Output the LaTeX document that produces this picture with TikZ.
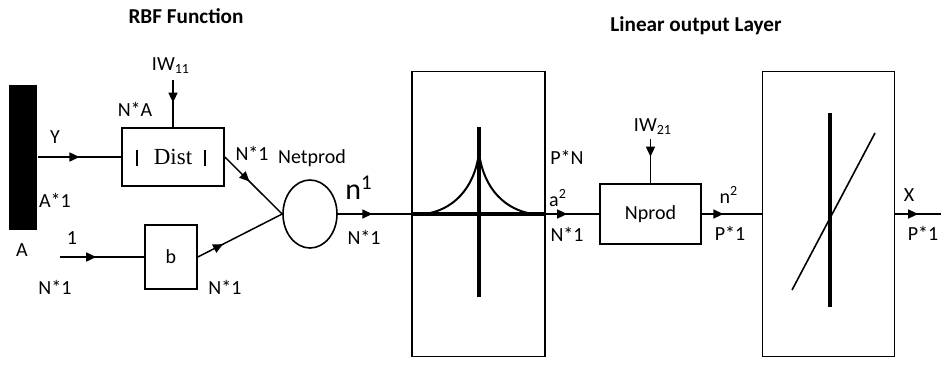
\documentclass[tikz,border=0pt]{standalone}
\usepackage{fontspec}
\setmainfont{Carlito}
\newfontfamily\distfont{Liberation Serif}
\usetikzlibrary{arrows.meta,shapes.geometric,decorations.markings}

\begin{document}
\begin{tikzpicture}[x=0.5pt,y=-0.5pt,>={Triangle[length=5pt,width=4.5pt]},line width=0.75pt,
  blk/.style={draw,line width=0.8pt,inner sep=0pt},
  lbl/.style={inner sep=0pt,font=\fontsize{10}{12}\selectfont},
  title/.style={inner sep=0pt,font=\bfseries\fontsize{10.6}{12}\selectfont},
  flow/.style={postaction={decorate},decoration={markings,mark=at position #1 with {\arrow{>}}}},
  flow/.default=0.5,
  axis/.style={line width=2pt}]
\useasboundingbox (0,0) rectangle (941,365);
\node[title] (rbf) at (186,16) {RBF Function};
\node[title] (lin) at (696,26) {Linear output Layer};
\node[fill=black,minimum width=14pt,minimum height=72.5pt,inner sep=0pt] (bar) at (23,157) {};
\node[blk,minimum width=51pt,minimum height=29pt] (dist) at (173,157) {\distfont\fontsize{11.5}{13}\selectfont Dist};
\node[blk,minimum width=26pt,minimum height=32pt] (b) at (171,257) {b};
\node[blk,ellipse,minimum width=27pt,minimum height=34pt] (net) at (310,214) {};
\node[blk,minimum width=66.5pt,minimum height=142.5pt] (rbox) at (478.5,214) {};
\node[blk,minimum width=50.5pt,minimum height=30pt] (nprod) at (650.5,214) {Nprod};
\node[blk,minimum width=66pt,minimum height=142.5pt] (lbox) at (828.5,214) {};
\coordinate (iw1) at (173,80);
\coordinate (one) at (60,257);
\coordinate (iw2) at (650.5,139);
\coordinate (out) at (941,214);
% marks inside Dist
\draw[line width=1.2pt] (137,150) -- (137,166);
\draw[line width=1.2pt] (205,150) -- (205,166);
% radial basis curve
\draw[axis] (rbox.west) -- (rbox.east);
\draw[axis] (479,127) -- (479,297);
\draw[line width=1pt] (425,214) .. controls (452,210) and (474,190) .. (479,153);
\draw[line width=1pt] (479,153) .. controls (484,190) and (506,210) .. (533,214);
% linear transfer
\draw[axis] (830,113) -- (830,307);
\draw[line width=0.8pt] (792,290) -- (875,133);
% connectors
\draw[flow] (bar) -- (dist);
\draw[flow=0.48] (iw1) -- (dist);
\draw[flow=0.43] (dist.east) -- (net.west);
\draw[flow=0.43] (one) -- (b);
\draw[flow=0.3] (b.east) -- (net.west);
\draw[flow=0.47] (net) -- (rbox);
\draw[flow=0.4] (rbox) -- (nprod);
\draw[flow=0.4] (iw2) -- (nprod);
\draw[flow=0.36] (nprod) -- (lbox);
\draw[flow] (lbox) -- (out);
% labels
\node[lbl] (iw11) at (171,66) {IW\textsubscript{11}};
\node[lbl] (na) at (135,109) {N*A};
\node[lbl] (y) at (55,137) {Y};
\node[lbl] (a1) at (55,200) {A*1};
\node[lbl] (a) at (22,250) {A};
\node[lbl] (in1) at (72,238) {1};
\node[lbl] (nin) at (55,287) {N*1};
\node[lbl] (nb) at (225,287) {N*1};
\node[lbl] (nd) at (252,153) {N*1};
\node[lbl] (np) at (312,158) {Netprod};
\node[inner sep=0pt,font=\fontsize{15}{16}\selectfont] (n1) at (359,188) {n\textsuperscript{1}};
\node[lbl] (nn) at (364,237) {N*1};
\node[lbl] (pn) at (567,157) {P*N};
\node[lbl] (a2) at (558,198) {a\textsuperscript{2}};
\node[lbl] (na2) at (567,234) {N*1};
\node[lbl] (iw21) at (653,127) {IW\textsubscript{21}};
\node[lbl] (n2) at (729,195) {n\textsuperscript{2}};
\node[lbl] (p1) at (730,233) {P*1};
\node[lbl] (x) at (909,195) {X};
\node[lbl] (px) at (923,233) {P*1};
\end{tikzpicture}
\end{document}
